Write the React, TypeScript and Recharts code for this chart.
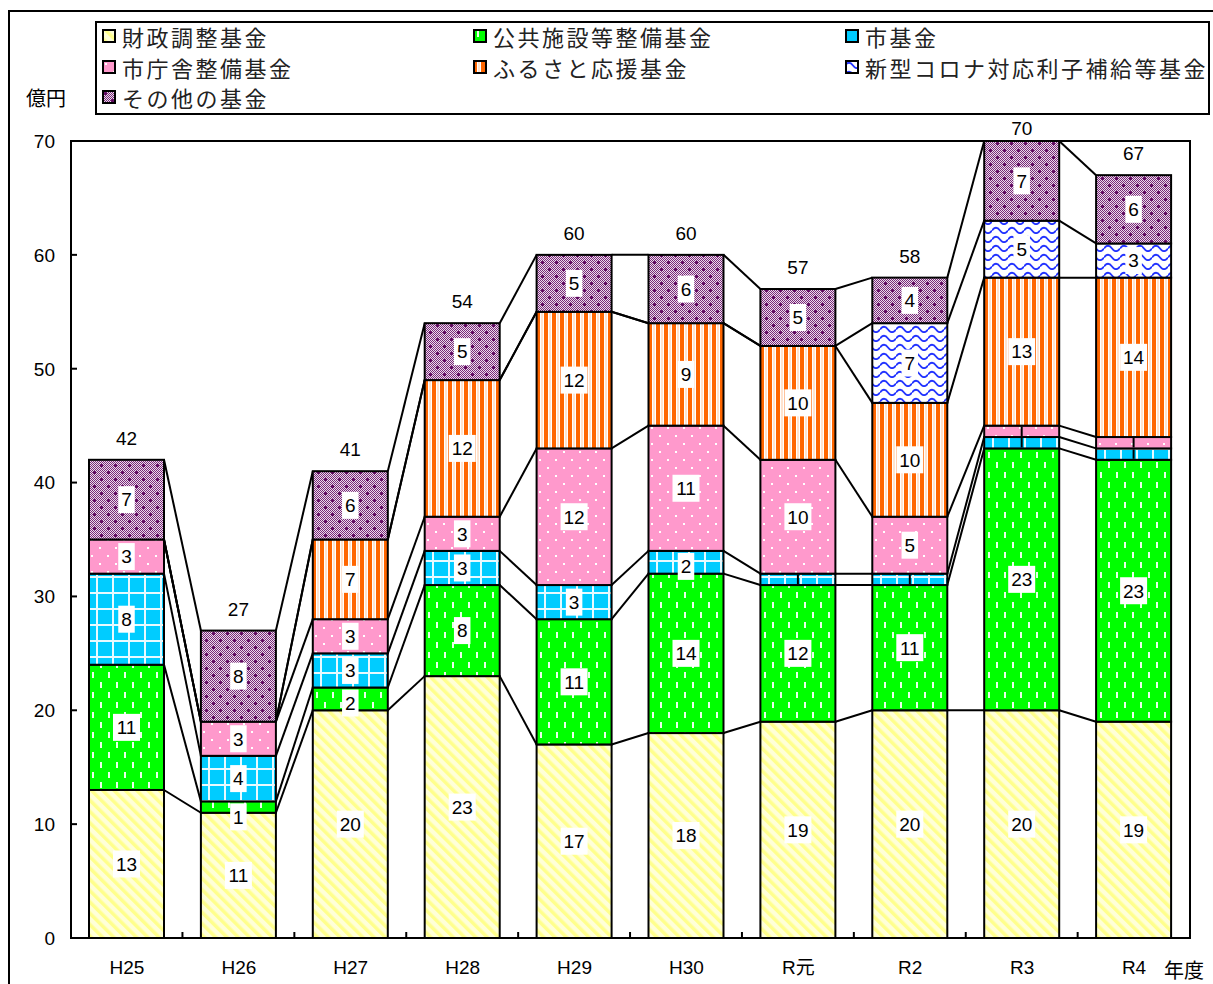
import React from 'react';
import { BarChart, Bar, XAxis, YAxis, ReferenceArea } from 'recharts';

// Fund balances (億円) by fiscal year
const categories = ['H25', 'H26', 'H27', 'H28', 'H29', 'H30', 'R元', 'R2', 'R3', 'R4'];
const zaiseiChosei = [13, 11, 20, 23, 17, 18, 19, 20, 20, 19];
const kokyoShisetsu = [11, 1, 2, 8, 11, 14, 12, 11, 23, 23];
const shiKikin = [8, 4, 3, 3, 3, 2, 1, 1, 1, 1];
const chosha = [3, 3, 3, 3, 12, 11, 10, 5, 1, 1];
const furusato = [0, 0, 7, 12, 12, 9, 10, 10, 13, 14];
const corona = [0, 0, 0, 0, 0, 0, 0, 7, 5, 3];
const sonota = [7, 8, 6, 5, 5, 6, 5, 4, 7, 6];
const yTicks = [0, 10, 20, 30, 40, 50, 60, 70];

// labels that Excel squeezed into a thin mark
const compactLabels: Record<string, string[]> = {
    shiKikin: ['R元', 'R2', 'R3', 'R4'],
    chosha: ['R3', 'R4'],
};

const SERIES = [
    { key: 'zaiseiChosei', name: '財政調整基金', values: zaiseiChosei, fill: 'url(#pYellow)' },
    { key: 'kokyoShisetsu', name: '公共施設等整備基金', values: kokyoShisetsu, fill: 'url(#pGreen)' },
    { key: 'shiKikin', name: '市基金', values: shiKikin, fill: 'url(#pCyan)' },
    { key: 'chosha', name: '市庁舎整備基金', values: chosha, fill: 'url(#pPink)' },
    { key: 'furusato', name: 'ふるさと応援基金', values: furusato, fill: 'url(#pOrange)' },
    { key: 'corona', name: '新型コロナ対応利子補給等基金', values: corona, fill: 'url(#pCorona)' },
    { key: 'sonota', name: 'その他の基金', values: sonota, fill: 'url(#pPurple)' },
];

// legend is laid out row by row, 3 columns
const LEGEND_ORDER = [
    ['zaiseiChosei', 'kokyoShisetsu', 'shiKikin'],
    ['chosha', 'furusato', 'corona'],
    ['sonota'],
];

const data = categories.map((name, i) => {
    const row: any = { name };
    SERIES.forEach((s) => (row[s.key] = s.values[i]));
    return row;
});

const cumulative = SERIES.map((_, s) =>
    categories.map((_, i) => SERIES.slice(0, s + 1).reduce((a, ser) => a + ser.values[i], 0))
);

const CHART_W = 1213;
const CHART_H = 984;
const MARGIN = { top: 141, right: 23, bottom: 16, left: 31 };
const Y_AXIS_W = 40;
const X_AXIS_H = 30;
const PLOT_TOP = MARGIN.top;
const PLOT_H = CHART_H - MARGIN.top - MARGIN.bottom - X_AXIS_H;
const PLOT_W = CHART_W - MARGIN.left - Y_AXIS_W - MARGIN.right;
const Y_MAX = 70;

const NUM_FONT = '"Liberation Sans", Arial, sans-serif';
const JP_FONT = '"Noto Sans CJK JP", "Noto Sans", sans-serif';
const NUM_SIZE = 19;

const makeShape = (s: number) => (props: any) => {
    const { x, y, width, height, index } = props;
    const bg = props.background || {};
    const top = bg.y ?? PLOT_TOP;
    const h = bg.height ?? PLOT_H;
    const yOf = (v: number) => top + h * (1 - v / Y_MAX);
    const band = PLOT_W / categories.length;
    const series = SERIES[s];
    const value = series.values[index];
    const cx = x + width / 2;
    const nodes: React.ReactNode[] = [];

    if (value > 0) {
        nodes.push(
            <rect key="r" x={x} y={y} width={width} height={height} fill={series.fill} stroke="#000" strokeWidth={2} />
        );
    }
    // series lines between adjacent bars
    if (index < categories.length - 1) {
        nodes.push(
            <line
                key="c"
                x1={x + width}
                y1={yOf(cumulative[s][index])}
                x2={x + band}
                y2={yOf(cumulative[s][index + 1])}
                stroke="#000"
                strokeWidth={2}
            />
        );
        if (s === 0) {
            const tx = x + width + (band - width) / 2;
            nodes.push(<line key="t" x1={tx} x2={tx} y1={top + h} y2={top + h - 6} stroke="#000" strokeWidth={2} />);
        }
    }
    if (value > 0) {
        const compact = (compactLabels[series.key] || []).includes(categories[index]);
        if (compact) {
            nodes.push(<line key="m" x1={cx} x2={cx} y1={y + 1} y2={y + height - 1} stroke="#000" strokeWidth={2} />);
        } else {
            const text = String(value);
            const bw = text.length * 10.5 + 6;
            const bh = 27;
            const cy = height < bh ? y + 2 + bh / 2 : y + height / 2;
            nodes.push(
                <g key="l">
                    <rect x={cx - bw / 2} y={cy - bh / 2} width={bw} height={bh} fill="#fff" />
                    <text x={cx} y={cy} dy="0.36em" textAnchor="middle" fontSize={NUM_SIZE} fontFamily={NUM_FONT} fill="#000">
                        {text}
                    </text>
                </g>
            );
        }
    }
    if (s === SERIES.length - 1) {
        // keep the total clear of the legend box
        const ty = Math.max(y - 15, top - 6);
        nodes.push(
            <text key="tot" x={cx} y={ty} textAnchor="middle" fontSize={NUM_SIZE} fontFamily={NUM_FONT} fill="#000">
                {cumulative[s][index]}
            </text>
        );
    }
    return <g>{nodes}</g>;
};

const YTick = (p: any) => (
    <g>
        <line x1={p.x} x2={p.x + 6} y1={p.y} y2={p.y} stroke="#000" strokeWidth={2} />
        <text x={p.x - 16} y={p.y} dy="0.36em" textAnchor="end" fontSize={NUM_SIZE} fontFamily={NUM_FONT} fill="#000">
            {p.payload.value}
        </text>
    </g>
);

const XTick = (p: any) => (
    <text x={p.x} y={p.y + 36} textAnchor="middle" fontSize={NUM_SIZE} fontFamily={`"Liberation Sans", ${JP_FONT}`} fill="#000">
        {p.payload.value}
    </text>
);

const Patterns = () => (
    <defs>
        <pattern id="pYellow" width="8" height="8" patternUnits="userSpaceOnUse" patternTransform="rotate(-45)">
            <rect width="8" height="8" fill="#FFFFD8" />
            <rect width="3.5" height="8" fill="#FFFF8C" />
        </pattern>
        <pattern id="pGreen" width="16" height="20" patternUnits="userSpaceOnUse">
            <rect width="16" height="20" fill="#00FF00" />
            <rect x="4" y="2" width="2" height="6" fill="#E8FFE8" />
            <rect x="12" y="12" width="2" height="6" fill="#E8FFE8" />
        </pattern>
        <pattern id="pCyan" width="16" height="16" patternUnits="userSpaceOnUse">
            <rect width="16" height="16" fill="#00CCFF" />
            <rect x="0" y="0" width="2" height="16" fill="#E6FAFF" />
            <rect x="0" y="0" width="16" height="2" fill="#E6FAFF" />
        </pattern>
        <pattern id="pPink" width="16" height="16" patternUnits="userSpaceOnUse">
            <rect width="16" height="16" fill="#FF99CC" />
            <rect x="3" y="3" width="2" height="2" fill="#fff" />
            <rect x="11" y="11" width="2" height="2" fill="#fff" />
        </pattern>
        <pattern id="pOrange" width="8" height="8" patternUnits="userSpaceOnUse">
            <rect width="8" height="8" fill="#FFFFFF" />
            <rect x="0" width="4" height="8" fill="#FF6600" />
            <rect x="5.5" width="1" height="8" fill="#FFC8A0" />
        </pattern>
        <pattern id="pCorona" width="16" height="9" patternUnits="userSpaceOnUse">
            <rect width="16" height="9" fill="#FFFFFF" />
            <path d="M0 5.5 Q4 0 8 5.5 T16 5.5" fill="none" stroke="#2233FF" strokeWidth="1.8" />
        </pattern>
        <pattern id="pChecker" width="2" height="2" patternUnits="userSpaceOnUse">
            <rect width="2" height="2" fill="#EBDDEB" />
            <rect x="0" y="0" width="1" height="1" fill="#7A2A7A" />
            <rect x="1" y="1" width="1" height="1" fill="#7A2A7A" />
        </pattern>
        <pattern id="pPurple" width="14" height="14" patternUnits="userSpaceOnUse">
            <rect width="14" height="14" fill="url(#pChecker)" />
            <circle cx="3.5" cy="3.5" r="1.5" fill="#5A005A" />
            <circle cx="10.5" cy="10.5" r="1.5" fill="#5A005A" />
        </pattern>
    </defs>
);

const LegendBox = () => {
    const cols = [102, 473, 845];
    const rows = [36, 67, 97];
    return (
        <div
            style={{
                position: 'absolute',
                left: 95,
                top: 21,
                width: 1111,
                height: 90,
                border: '2px solid #000',
                background: '#fff',
            }}
        >
            {LEGEND_ORDER.map((row, r) =>
                row.map((key, c) => {
                    const s = SERIES.find((ser) => ser.key === key)!;
                    return (
                        <div
                            key={key}
                            style={{
                                position: 'absolute',
                                left: cols[c] - 97,
                                top: rows[r] - 23 - 15,
                                height: 30,
                                display: 'flex',
                                alignItems: 'center',
                                whiteSpace: 'nowrap',
                            }}
                        >
                            <svg width={14} height={14} style={{ marginRight: 6 }}>
                                <rect x={1} y={1} width={12} height={12} fill={s.fill} stroke="#000" strokeWidth={2} />
                            </svg>
                            <span style={{ fontFamily: JP_FONT, fontSize: 22, letterSpacing: 2.5, color: '#222' }}>
                                {s.name}
                            </span>
                        </div>
                    );
                })
            )}
        </div>
    );
};

export default function App() {
    return (
        <div style={{ position: 'absolute', left: 0, top: 0, width: CHART_W, height: CHART_H, overflow: 'hidden', background: '#fff' }}>
            <div style={{ position: 'absolute', left: 8, top: 10, width: 1400, height: 1200, border: '2px solid #000' }} />
            <div style={{ position: 'absolute', left: 0, top: 0 }}>
                <BarChart width={CHART_W} height={CHART_H} data={data} margin={MARGIN}>
                    <Patterns />
                    <XAxis
                        dataKey="name"
                        height={X_AXIS_H}
                        tickLine={false}
                        tickSize={0}
                        tickMargin={0}
                        axisLine={{ stroke: '#000', strokeWidth: 2 }}
                        tick={<XTick />}
                        interval={0}
                    />
                    <YAxis
                        width={Y_AXIS_W}
                        domain={[0, Y_MAX]}
                        ticks={yTicks}
                        tickLine={false}
                        tickSize={0}
                        tickMargin={0}
                        axisLine={{ stroke: '#000', strokeWidth: 2 }}
                        tick={<YTick />}
                        interval={0}
                    />
                    <ReferenceArea y1={0} y2={Y_MAX} fill="none" stroke="#000" strokeWidth={2} ifOverflow="visible" />
                    {SERIES.map((s, i) => (
                        <Bar
                            key={s.key}
                            dataKey={s.key}
                            name={s.name}
                            stackId="a"
                            barSize={75}
                            fill={s.fill}
                            shape={makeShape(i)}
                            isAnimationActive={false}
                        />
                    ))}
                </BarChart>
            </div>
            <LegendBox />
            <div style={{ position: 'absolute', left: 26, top: 85, fontFamily: JP_FONT, fontSize: 20, lineHeight: '26px', color: '#000' }}>
                億円
            </div>
            <div style={{ position: 'absolute', left: 1164, top: 957, fontFamily: JP_FONT, fontSize: 20, lineHeight: '26px', color: '#000', whiteSpace: 'nowrap' }}>
                年度
            </div>
        </div>
    );
}
